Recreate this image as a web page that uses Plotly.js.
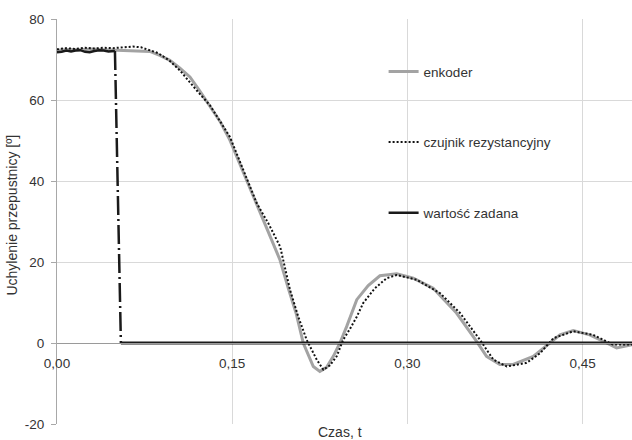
<!DOCTYPE html>
<html>
<head>
<meta charset="utf-8">
<script src="https://cdn.plot.ly/plotly-3.0.1.min.js"></script>
<style>html,body{margin:0;padding:0;background:#fff;}#chart{width:632px;height:440px;}</style>
</head>
<body>
<div id="chart"></div>
<script>
// --- data ---
const enkoderT = [0, 0.01, 0.02, 0.03, 0.04, 0.05, 0.06, 0.07, 0.0795, 0.088, 0.0966, 0.105, 0.1138, 0.122, 0.1309, 0.14, 0.148, 0.1623, 0.1738, 0.183, 0.1909, 0.198, 0.205, 0.2108, 0.2194, 0.225, 0.2308, 0.2365, 0.2422, 0.248, 0.2566, 0.2664, 0.2764, 0.2908, 0.305, 0.322, 0.342, 0.3592, 0.3677, 0.3791, 0.3905, 0.4077, 0.422, 0.4305, 0.4419, 0.456, 0.4705, 0.479, 0.4922];
const enkoderY = [72.3, 72.5, 72.4, 72.6, 72.4, 72.3, 72.2, 72.2, 72.0, 71.0, 69.8, 67.9, 65.7, 62.3, 58.3, 54.5, 50.1, 40.2, 32.0, 26.0, 20.5, 13.5, 7.0, 0.0, -5.8, -7.0, -6.0, -3.3, 0.0, 4.1, 10.7, 14.2, 16.6, 17.1, 16.0, 13.5, 7.4, 0.4, -3.3, -5.3, -5.3, -3.3, 0.0, 2.0, 3.1, 2.0, 0.0, -1.2, -0.4];

const czujnikT = [0, 0.008, 0.016, 0.024, 0.032, 0.040, 0.048, 0.056, 0.065, 0.072, 0.079, 0.0864, 0.096, 0.1052, 0.1195, 0.1309, 0.148, 0.16, 0.171, 0.181, 0.191, 0.1995, 0.2065, 0.2137, 0.2223, 0.228, 0.2337, 0.2394, 0.245, 0.2508, 0.2566, 0.2622, 0.272, 0.2822, 0.2908, 0.308, 0.328, 0.345, 0.362, 0.3735, 0.385, 0.402, 0.4136, 0.425, 0.442, 0.459, 0.476, 0.4922];
const czujnikY = [72.5, 72.8, 72.6, 72.9, 72.7, 72.9, 72.8, 72.9, 73.2, 73.0, 72.3, 71.6, 69.8, 67.3, 62.4, 58.7, 50.9, 42.5, 34.5, 29.5, 23.8, 13.1, 6.5, 0.8, -4.1, -6.6, -5.5, -3.3, 0.8, 3.5, 6.5, 9.9, 13.5, 16.0, 16.8, 15.6, 12.3, 7.4, 0.8, -4.1, -5.8, -4.9, -2.5, 1.2, 2.9, 2.0, -0.4, -0.4];

const zadanaT = [0, 0.004, 0.008, 0.012, 0.016, 0.020, 0.024, 0.028, 0.032, 0.036, 0.040, 0.044, 0.0496];
const zadanaY = [71.8, 71.9, 72.2, 72.0, 72.2, 72.3, 71.9, 71.8, 72.1, 72.3, 72.2, 72.0, 72.1];
const skokT = [0.0496, 0.0547];
const skokY = [72.1, 0];
const zeroT = [0.0547, 0.4922];
const zeroY = [0, 0];

const xTicks = [0, 0.15, 0.30, 0.45];
const xTickText = ['0,00', '0,15', '0,30', '0,45'];
const yTicks = [-20, 0, 20, 40, 60, 80];
const yTickText = ['-20', '0', '20', '40', '60', '80'];
// --- end data ---

const FONT = 'Liberation Sans, Arial, sans-serif';
const TXT = '#333333';

const traces = [
  {x: enkoderT, y: enkoderY, name: 'enkoder', mode: 'lines', legendgroup: 'e',
   line: {color: '#a3a3a3', width: 3}},
  {x: czujnikT, y: czujnikY, name: 'czujnik rezystancyjny', mode: 'lines', legendgroup: 'c',
   line: {color: '#111111', width: 2, dash: '2px,2px'}},
  {x: zadanaT, y: zadanaY, name: 'wartość zadana', mode: 'lines', legendgroup: 'w',
   line: {color: '#1a1a1a', width: 2.5}},
  {x: skokT, y: skokY, name: 'wartość zadana', mode: 'lines', legendgroup: 'w', showlegend: false,
   line: {color: '#1a1a1a', width: 2.5, dash: '19px,4px,2px,4px'}},
  {x: zeroT, y: zeroY, name: 'wartość zadana', mode: 'lines', legendgroup: 'w', showlegend: false,
   line: {color: '#1a1a1a', width: 3}}
];

const layout = {
  width: 632, height: 440,
  margin: {l: 57.1, r: 0, t: 19.3, b: 15.7, pad: 0},
  paper_bgcolor: '#ffffff', plot_bgcolor: '#ffffff',
  font: {family: FONT, size: 13.5, color: TXT},
  showlegend: true,
  legend: {x: 0.568, y: 0.908, xanchor: 'left', yanchor: 'top', traceorder: 'grouped',
    tracegroupgap: 50, bgcolor: 'rgba(0,0,0,0)', font: {family: FONT, size: 13.5, color: TXT}},
  xaxis: {
    range: [0, 0.4922], tickvals: xTicks, ticktext: xTickText,
    anchor: 'free', position: 0.2,
    showgrid: true, gridcolor: '#d9d9d9', gridwidth: 1,
    showline: true, linecolor: '#9a9a9a', linewidth: 1,
    ticks: '', zeroline: false, ticklabelstandoff: 8,
    tickfont: {family: FONT, size: 13.5, color: TXT}
  },
  yaxis: {
    range: [-20, 80], tickvals: yTicks, ticktext: yTickText,
    showgrid: true, gridcolor: '#d9d9d9', gridwidth: 1,
    showline: true, linecolor: '#a8a8a8', linewidth: 1,
    ticks: 'outside', ticklen: 5, tickcolor: '#a8a8a8', zeroline: false,
    ticklabelstandoff: 4,
    tickfont: {family: FONT, size: 13.5, color: TXT}
  },
  annotations: [
    {text: 'Czas, t', xref: 'paper', yref: 'paper', x: 0.492, y: -0.019,
     xanchor: 'center', yanchor: 'middle', showarrow: false,
     font: {family: FONT, size: 14, color: TXT}},
    {text: 'Uchylenie przepustnicy [º]', xref: 'paper', yref: 'paper', x: -0.0784, y: 0.517,
     xanchor: 'center', yanchor: 'middle', textangle: -90, showarrow: false,
     font: {family: FONT, size: 14, color: TXT}}
  ]
};

Plotly.newPlot('chart', traces, layout, {displayModeBar: false, staticPlot: true});
</script>
</body>
</html>
